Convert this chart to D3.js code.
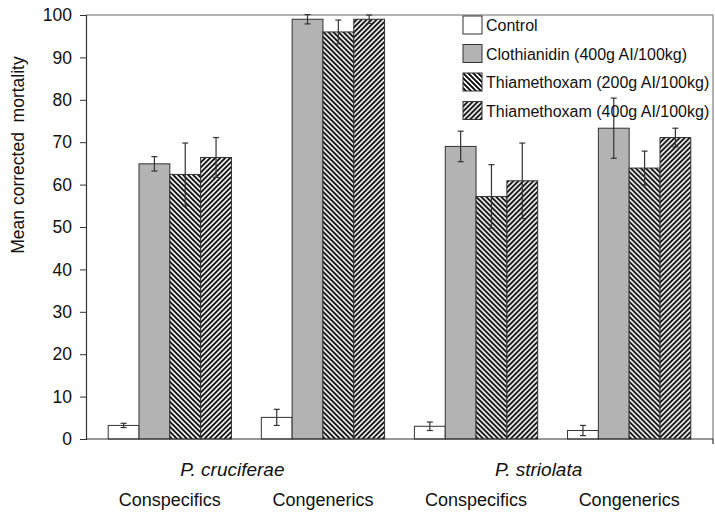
<!DOCTYPE html>
<html lang="en">
<head>
    <meta charset="UTF-8">
    <title>Mean corrected mortality</title>
    <style>
        body { margin: 0; background: #fff; }
        svg { display: block; font-family: "Liberation Sans", Arial, sans-serif; }
    </style>
    <script src="https://d3js.org/d3.v7.min.js"></script>
</head>
<body>
    <div id="chart"></div>
    <script>
        // categories (species / host group)
        const groups = ["pc-con", "pc-cong", "ps-con", "ps-cong"];
        const groupLabels = ["Conspecifics", "Congenerics", "Conspecifics", "Congenerics"];
        const species = ["P. cruciferae", "P. striolata"];
        const series = ["Control", "Clothianidin (400g AI/100kg)", "Thiamethoxam (200g AI/100kg)", "Thiamethoxam (400g AI/100kg)"];

        // means per series, one value per group
        const control = [3.2, 5.1, 3.0, 2.0];
        const clothianidin = [64.9, 99.0, 69.0, 73.3];
        const thia200 = [62.4, 96.0, 57.2, 63.9];
        const thia400 = [66.4, 99.0, 60.9, 71.1];

        // error bar half-widths
        const controlErr = [0.5, 1.9, 1.0, 1.2];
        const clothianidinErr = [1.7, 1.1, 3.6, 7.1];
        const thia200Err = [7.4, 2.8, 7.5, 4.0];
        const thia400Err = [4.7, 1.0, 8.9, 2.2];

        const yTicks = [0, 10, 20, 30, 40, 50, 60, 70, 80, 90, 100];

        const means = [control, clothianidin, thia200, thia400];
        const errs = [controlErr, clothianidinErr, thia200Err, thia400Err];

        const W = 715, H = 515;
        const m = {left: 86, right: 713, top: 15, bottom: 439};

        const svg = d3.select("#chart").append("svg")
            .attr("width", W).attr("height", H);

        const defs = svg.append("defs");
        // hatch patterns, "\\" and "//"
        function hatch(id, d) {
            const p = defs.append("pattern")
                .attr("id", id)
                .attr("patternUnits", "userSpaceOnUse")
                .attr("width", 5).attr("height", 5);
            p.append("rect").attr("width", 5).attr("height", 5).attr("fill", "#fff");
            p.append("path").attr("d", d)
                .attr("stroke", "#000").attr("stroke-width", 1.8).attr("fill", "none");
        }
        hatch("back", "M-1,-1L6,6M-1,4L1,6M4,-1L6,1");
        hatch("fwd", "M-1,6L6,-1M-1,1L1,-1M4,6L6,4");

        const fills = ["#fff", "#b3b3b3", "url(#back)", "url(#fwd)"];

        const x = d3.scaleBand().domain(groups).range([m.left, m.right])
            .paddingInner(0.195).paddingOuter(0.145);
        const xs = d3.scaleBand().domain(d3.range(series.length)).range([0, x.bandwidth()]);
        const y = d3.scaleLinear().domain([0, 100]).range([m.bottom, m.top]);

        // frame (top and right)
        svg.append("path")
            .attr("d", `M${m.left},${m.top}H${m.right}V${m.bottom}`)
            .attr("fill", "none").attr("stroke", "#999").attr("stroke-width", 1.5);

        // bars
        groups.forEach((g, gi) => {
            const gg = svg.append("g").attr("transform", `translate(${x(g)},0)`);
            series.forEach((s, si) => {
                const v = means[si][gi];
                gg.append("rect")
                    .attr("x", xs(si)).attr("y", y(v))
                    .attr("width", xs.bandwidth()).attr("height", y(0) - y(v))
                    .attr("fill", fills[si])
                    .attr("stroke", "#333").attr("stroke-width", 1);
            });
            series.forEach((s, si) => {
                const v = means[si][gi], e = errs[si][gi];
                const cx = xs(si) + xs.bandwidth() / 2;
                const eb = gg.append("g").attr("stroke", "#333").attr("stroke-width", 1.2);
                eb.append("line").attr("x1", cx).attr("x2", cx).attr("y1", y(v - e)).attr("y2", y(v + e));
                eb.append("line").attr("x1", cx - 3).attr("x2", cx + 3).attr("y1", y(v - e)).attr("y2", y(v - e));
                eb.append("line").attr("x1", cx - 3).attr("x2", cx + 3).attr("y1", y(v + e)).attr("y2", y(v + e));
            });
        });

        // y axis
        const yAxis = svg.append("g")
            .attr("transform", `translate(${m.left},0)`)
            .call(d3.axisLeft(y).tickValues(yTicks).tickSize(6).tickPadding(8));
        yAxis.select(".domain").attr("stroke", "#333").attr("stroke-width", 1.2);
        yAxis.selectAll(".tick line").attr("stroke", "#333");
        yAxis.selectAll("text").attr("font-size", 17.5).attr("fill", "#111")
            .attr("font-family", "Liberation Sans, Arial, sans-serif");

        // x axis line with end tick
        svg.append("path")
            .attr("d", `M${m.left},${m.bottom}H${m.right}M${m.right},${m.bottom}V${m.bottom + 5}`)
            .attr("fill", "none").attr("stroke", "#333").attr("stroke-width", 1.2);

        // group labels
        svg.selectAll(".glabel").data(groups).join("text")
            .attr("class", "glabel")
            .attr("x", d => x(d) + x.bandwidth() / 2)
            .attr("y", 506)
            .attr("text-anchor", "middle")
            .attr("font-size", 18)
            .attr("fill", "#111")
            .text((d, i) => groupLabels[i]);

        // species labels
        species.forEach((s, i) => {
            const mid = (x(groups[2 * i]) + x(groups[2 * i + 1]) + x.bandwidth()) / 2;
            svg.append("text")
                .attr("x", mid - 14).attr("y", 476)
                .attr("text-anchor", "middle")
                .attr("font-size", 19).attr("font-style", "italic")
                .attr("fill", "#111")
                .text(s);
        });

        // y title
        svg.append("text")
            .attr("transform", "translate(24,155) rotate(-90)")
            .attr("text-anchor", "middle")
            .attr("font-size", 17.5)
            .attr("fill", "#111")
            .style("white-space", "pre")
            .text("Mean corrected  mortality");

        // legend
        const legend = svg.append("g").attr("transform", "translate(463,16)");
        series.forEach((s, i) => {
            const row = legend.append("g").attr("transform", `translate(0,${i * 28.5})`);
            row.append("rect").attr("width", 19).attr("height", 18)
                .attr("fill", fills[i]).attr("stroke", "#333").attr("stroke-width", 1);
            row.append("text").attr("x", 23).attr("y", 15)
                .attr("font-size", 16).attr("fill", "#111")
                .text(s);
        });
    </script>
</body>
</html>
